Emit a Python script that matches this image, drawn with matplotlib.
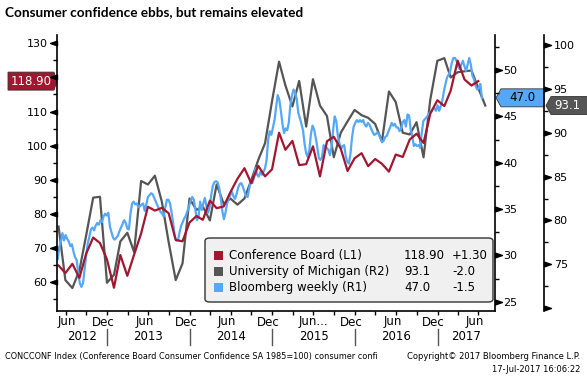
import matplotlib
matplotlib.use("Agg")
import matplotlib.pyplot as plt
import matplotlib.dates as mdates
import matplotlib.transforms as mtransforms
from matplotlib.patches import Polygon, FancyBboxPatch, Rectangle
from matplotlib.path import Path
from matplotlib.lines import Line2D
import pandas as pd

# --- datos ---
# Conference Board, mensual may-2012 .. jun-2017 (eje L1)
conf_board = [64.9, 62.7, 65.4, 61.3, 68.4, 73.1, 71.5, 66.7,
              58.4, 68.0, 61.9, 68.1, 74.3, 82.1, 81.0, 81.8, 80.2, 72.4, 72.0, 77.5,
              79.4, 78.3, 83.9, 81.7, 82.2, 86.4, 90.3, 93.4, 89.0, 94.1, 91.0, 93.1,
              103.8, 98.8, 101.4, 94.3, 94.6, 99.8, 91.0, 101.3, 102.6, 99.1, 92.6, 96.3,
              97.8, 94.0, 96.1, 94.7, 92.4, 97.4, 96.7, 101.8, 103.5, 100.8, 109.4, 113.3,
              111.6, 116.1, 124.9, 119.4, 117.6, 118.9]
# Universidad de Michigan, mensual may-2012 .. jul-2017 (eje R2)
umich = [79.3, 73.2, 72.3, 74.3, 78.3, 82.6, 82.7, 72.9,
         73.8, 77.6, 78.6, 76.4, 84.5, 84.1, 85.1, 82.1, 77.5, 73.2, 75.1, 82.5,
         81.2, 81.6, 80.0, 84.1, 81.9, 82.5, 81.8, 82.5, 84.6, 86.9, 88.8, 93.6,
         98.1, 95.4, 93.0, 95.9, 90.7, 96.1, 93.1, 91.9, 87.2, 90.0, 91.3, 92.6,
         92.0, 91.7, 91.0, 89.0, 94.7, 93.5, 90.0, 89.8, 91.2, 87.2, 93.8, 98.2,
         98.5, 96.3, 96.9, 97.0, 97.1, 95.1, 93.1]
# Bloomberg semanal, desde 27-may-2012 (eje R1)
bbg_weekly = [29.6, 30.8, 31.5, 32.4, 31.6, 32.2, 31.8, 31.5, 31.0, 31.2,
              30.4, 29.8, 29.5, 28.1, 27.0, 26.6, 27.0, 28.5, 30.0, 31.3,
              32.0, 32.8, 33.0, 32.7, 33.2, 33.5, 33.3, 33.8, 33.6, 34.2,
              34.5, 34.3, 34.6, 33.1, 32.5, 31.9, 31.7, 31.9, 32.1, 32.6,
              33.0, 33.4, 33.8, 33.5, 32.9, 32.8, 34.5, 35.6, 35.8, 35.5,
              35.6, 35.2, 35.3, 35.5, 35.6, 34.8, 35.5, 36.3, 36.5, 36.7,
              36.6, 36.2, 35.8, 35.4, 35.0, 34.7, 34.5, 34.2, 35.2, 36.0,
              36.0, 35.6, 34.6, 33.4, 32.0, 31.6, 31.6, 32.5, 33.2, 33.6,
              34.0, 34.3, 34.8, 35.3, 35.9, 36.3, 36.0, 34.9, 33.8, 34.2,
              35.8, 34.9, 35.6, 36.2, 35.3, 34.6, 35.2, 36.5, 37.5, 37.9,
              38.0, 37.9, 37.3, 36.2, 34.8, 33.9, 34.6, 35.6, 36.1, 36.5,
              36.9, 36.4, 36.1, 36.6, 37.3, 37.7, 37.8, 37.4, 36.9, 36.4,
              36.3, 37.2, 38.1, 37.8, 38.4, 39.4, 38.7, 38.5, 39.0, 38.7,
              39.0, 39.4, 40.3, 42.5, 43.4, 43.0, 43.8, 44.6, 46.0, 47.3,
              46.8, 45.6, 44.2, 43.2, 43.7, 43.5, 44.3, 46.2, 47.2, 47.9,
              47.6, 46.9, 45.4, 44.8, 44.2, 43.5, 42.0, 41.0, 40.6, 41.4,
              43.1, 44.0, 43.6, 42.7, 41.7, 40.5, 40.3, 40.6, 41.9, 41.6,
              41.6, 41.4, 40.8, 41.7, 43.5, 45.0, 44.5, 42.9, 42.1, 41.5,
              41.8, 41.9, 40.7, 40.1, 39.9, 41.0, 42.8, 43.9, 44.3, 44.6,
              44.4, 44.6, 44.4, 44.6, 44.1, 43.9, 44.3, 44.1, 43.7, 43.3,
              43.0, 43.1, 43.3, 43.0, 42.6, 42.2, 42.4, 42.8, 42.9, 43.4,
              43.8, 44.3, 44.0, 44.2, 43.8, 43.8, 43.4, 43.7, 44.4, 44.6,
              43.9, 45.2, 45.1, 43.6, 42.9, 41.8, 42.0, 41.8, 41.9, 41.6,
              43.2, 44.5, 44.7, 44.9, 45.1, 45.4, 45.5, 45.8, 45.9, 45.6,
              46.2, 45.6, 46.1, 46.7, 47.7, 48.5, 49.2, 49.5, 49.9, 50.8,
              51.3, 51.3, 51.0, 50.4, 50.1, 50.6, 51.0, 50.4, 49.9, 50.6,
              51.3, 50.6, 49.4, 49.0, 48.3, 47.9, 48.0, 48.5, 47.0]

series_names = ["Conference Board (L1)", "University of Michigan (R2)", "Bloomberg weekly (R1)"]
last_values = ["118.90", "93.1", "47.0"]
changes = ["+1.30", "-2.0", "-1.5"]
year_labels = ["2012", "2013", "2014", "2015", "2016", "2017"]
left_ticks = [60, 70, 80, 90, 100, 110, 120, 130]
r1_ticks = [25, 30, 35, 40, 45, 50]
r2_ticks = [70, 75, 80, 85, 90, 95, 100]

RED = "#A0172F"
GRAY = "#555555"
BLUE = "#55A8F8"
W, H = 587, 377

cb_dates = pd.date_range("2012-05-01", periods=len(conf_board), freq="MS") + pd.offsets.MonthEnd(1)
um_dates = pd.date_range("2012-05-01", periods=len(umich), freq="MS") + pd.offsets.MonthEnd(1)
bbg_dates = pd.date_range("2012-05-27", periods=len(bbg_weekly), freq="7D")

plt.rcParams["font.family"] = "DejaVu Sans"

fig = plt.figure(figsize=(W / 100, H / 100), dpi=100)
fig.patch.set_facecolor("white")


def fx(x):
    return x / W


def fy(y):
    return 1 - y / H


L, R, T, B = 57, 495, 35, 311
ax = fig.add_axes([fx(L), fy(B), (R - L) / W, (B - T) / H])
ax_r1 = ax.twinx()
ax_r2 = ax.twinx()
r2_pos = (544 - L) / (R - L)
ax_r2.spines["right"].set_position(("axes", r2_pos))

ax_r2.set_zorder(1)
ax_r1.set_zorder(2)
ax.set_zorder(3)
ax.patch.set_visible(False)
ax_r1.patch.set_visible(False)

ax_r2.plot(um_dates, umich, color=GRAY, lw=1.6)
ax_r1.plot(bbg_dates, bbg_weekly, color=BLUE, lw=1.6)
ax.plot(cb_dates, conf_board, color=RED, lw=1.6)

ax.set_xlim(pd.Timestamp("2012-05-24"), pd.Timestamp("2017-09-12"))
ax.set_ylim(51.6, 132.4)
ax_r1.set_ylim(24.0, 53.78)
ax_r2.set_ylim(69.68, 101.14)

for a in (ax, ax_r1, ax_r2):
    a.spines["top"].set_visible(False)
ax.spines["right"].set_visible(False)
for a in (ax_r1, ax_r2):
    a.spines["left"].set_visible(False)
    a.spines["bottom"].set_visible(False)
for s in ("left", "bottom"):
    ax.spines[s].set_linewidth(1.2)
ax_r1.spines["right"].set_linewidth(1.2)
ax_r2.spines["right"].set_linewidth(1.2)

# ticks y (el 120 queda tapado por la etiqueta del ultimo valor)
ax.set_yticks(left_ticks)
ax.set_yticklabels(["" if t == 120 else str(t) for t in left_ticks])
ax.set_yticks(range(55, 131, 5), minor=True)
ax_r1.set_yticks(r1_ticks)
ax_r1.set_yticks([x / 2 for x in range(50, 106, 5)], minor=True)
ax_r2.set_yticks(r2_ticks[1:])
ax_r2.set_yticks([x / 2 for x in range(140, 201, 5)], minor=True)

ax.tick_params(axis="y", which="major", length=0, pad=6.8, labelsize=8)
ax.tick_params(axis="y", which="minor", length=3, width=1)
ax_r1.tick_params(axis="y", which="major", length=0, pad=5.8, labelsize=8)
ax_r1.tick_params(axis="y", which="minor", length=3, width=1)
ax_r2.tick_params(axis="y", which="major", length=0, pad=7, labelsize=8)
ax_r2.tick_params(axis="y", which="minor", length=3, width=1)

# triangulos de los ticks mayores
tri_left = Path([(0, 0.34), (-1, 0), (0, -0.34), (0, 0.34)])
tri_right = Path([(0, 0.34), (1, 0), (0, -0.34), (0, 0.34)])
ax.plot([0] * len(left_ticks), left_ticks, ls="none", marker=tri_left, ms=10, color="black",
        transform=ax.get_yaxis_transform(), clip_on=False)
ax_r1.plot([1] * len(r1_ticks), r1_ticks, ls="none", marker=tri_right, ms=10, color="black",
           transform=ax_r1.get_yaxis_transform(), clip_on=False)
ax_r2.plot([r2_pos] * len(r2_ticks), r2_ticks, ls="none", marker=tri_right, ms=10, color="black",
           transform=ax_r2.get_yaxis_transform(), clip_on=False)

# eje x
ax.xaxis.set_major_locator(mdates.MonthLocator(bymonth=[1, 4, 7, 10]))
ax.xaxis.set_major_formatter(plt.NullFormatter())
ax.tick_params(axis="x", length=3, width=1)

xt = mtransforms.blended_transform_factory(ax.transData, fig.transFigure)
for yr in range(2012, 2018):
    d = pd.Timestamp(f"{yr}-06-15")
    if yr == 2015:
        off = mtransforms.offset_copy(xt, fig=fig, x=-11, y=0, units="dots")
        ax.text(d, fy(322), "Jun...", transform=off, ha="left", va="center", fontsize=8.5, clip_on=False)
    else:
        dx = 5 if yr == 2012 else 0
        off = mtransforms.offset_copy(xt, fig=fig, x=dx, y=0, units="dots")
        ax.text(d, fy(322), "Jun", transform=off, ha="center", va="center", fontsize=8.5, clip_on=False)
    if yr < 2017:
        ax.text(pd.Timestamp(f"{yr}-12-15"), fy(322), "Dec", transform=xt, ha="center", va="center",
                fontsize=8.5, clip_on=False)
xl = ax.get_xlim()
edges = [xl[0]] + [mdates.date2num(pd.Timestamp(f"{y}-01-01")) for y in range(2013, 2018)] + [xl[1]]
for i, lab in enumerate(year_labels):
    ax.text((edges[i] + edges[i + 1]) / 2, fy(337), lab, transform=xt, ha="center", va="center",
            fontsize=8.5, clip_on=False)
for e in edges[1:-1]:
    fig.add_artist(Line2D([e, e], [fy(329), fy(345)], transform=xt, color="#555555", lw=1))

# etiquetas de ultimo valor
fig.canvas.draw()
ident = mtransforms.IdentityTransform()


def ypix(a, v):
    return a.transData.transform((0, v))[1]


yc = ypix(ax, 118.9)
fig.add_artist(Polygon([(57, yc), (54, yc + 9), (8, yc + 9), (8, yc - 9), (54, yc - 9)],
                       closed=True, transform=ident, facecolor=RED, edgecolor="#333333", lw=0.6))
fig.text(31, yc, "118.90", transform=ident, color="white", ha="center", va="center", fontsize=8.5)

yc = ypix(ax_r1, 47.0)
fig.add_artist(Polygon([(496, yc), (501, yc + 9), (544, yc + 9), (544, yc - 9), (501, yc - 9)],
                       closed=True, transform=ident, facecolor=BLUE, edgecolor="#333333", lw=0.6))
fig.text(522, yc, "47.0", transform=ident, color="black", ha="center", va="center", fontsize=8.5)

yc = ypix(ax_r2, 93.1)
fig.add_artist(Polygon([(546, yc), (551, yc + 9), (590, yc + 9), (590, yc - 9), (551, yc - 9)],
                       closed=True, transform=ident, facecolor=GRAY, edgecolor="#333333", lw=0.6))
fig.text(567, yc, "93.1", transform=ident, color="white", ha="center", va="center", fontsize=8.5)

# leyenda
fig.add_artist(FancyBboxPatch((fx(205), fy(302)), fx(493) - fx(205), fy(238) - fy(302),
                              boxstyle="round,pad=0,rounding_size=0.008",
                              transform=fig.transFigure, facecolor="#F0F0F0",
                              edgecolor="#333333", lw=1, zorder=5))
colors = [RED, GRAY, BLUE]
for i, (name, val, chg) in enumerate(zip(series_names, last_values, changes)):
    yrow = 255.5 + i * 15.8
    fig.add_artist(Rectangle((fx(214), fy(yrow + 4.5)), 9 / W, 9 / H, transform=fig.transFigure,
                             facecolor=colors[i], edgecolor="none", zorder=6))
    fig.text(fx(229), fy(yrow), name, ha="left", va="center", fontsize=8.5, zorder=6)
    fig.text(fx(404), fy(yrow), val, ha="left", va="center", fontsize=8.5, zorder=6)
    fig.text(fx(452), fy(yrow), chg, ha="left", va="center", fontsize=8.5, zorder=6)

# titulo y pie
fig.text(fx(5), fy(12), "Consumer confidence ebbs, but remains elevated", ha="left", va="center",
         fontsize=9.8, fontweight="bold", family="Lato")
fig.text(fx(5), fy(356.5), "CONCCONF Index (Conference Board Consumer Confidence SA 1985=100) consumer confi",
         ha="left", va="center", fontsize=5.9)
fig.text(fx(580), fy(356.5), "Copyright\u00a9 2017 Bloomberg Finance L.P.", ha="right", va="center", fontsize=6.0)
fig.text(fx(580), fy(369.5), "17-Jul-2017 16:06:22", ha="right", va="center", fontsize=6.0)

fig.savefig("out.png", dpi=100, facecolor="white")
